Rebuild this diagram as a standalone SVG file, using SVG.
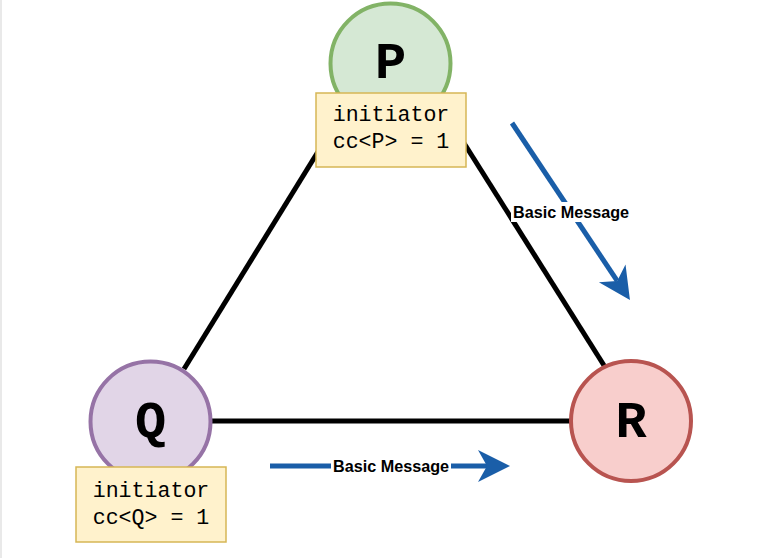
<svg xmlns="http://www.w3.org/2000/svg" width="766" height="558" viewBox="0 0 766 558">
<style>
.node{stroke-width:4}
.lbl{font-family:"Courier New","Nimbus Mono PS","Liberation Mono",monospace;font-weight:bold;font-size:52px;text-anchor:middle;fill:#000}
.box{fill:#fff2cc;stroke:#d6b656;stroke-width:1.5}
.boxt{font-family:"Courier New","Nimbus Mono PS","Liberation Mono",monospace;font-size:21.6px;text-anchor:middle;fill:#000}
.edge{stroke:#000;stroke-width:5;fill:none}
.msg{stroke:#1a5ea8;stroke-width:5;fill:none}
.msgt{font-family:"Liberation Sans",Arial,sans-serif;font-weight:bold;font-size:16.2px;text-anchor:middle;fill:#000}
</style>
<defs>
<marker id="ah" markerUnits="userSpaceOnUse" markerWidth="40" markerHeight="40" viewBox="0 -20 40 40" refX="9" refY="0" orient="auto" overflow="visible">
<path d="M0,-16 L32,0 L0,16 L9,0 Z" fill="#1a5ea8"/>
</marker>
</defs>
<rect x="0" y="0" width="766" height="558" fill="#fff"/>
<line x1="1" y1="0" x2="1" y2="558" stroke="#e2e2e2" stroke-width="1.5"/>
<g id="connectors">
<line class="edge" x1="340" y1="116" x2="184" y2="369"/>
<line class="edge" x1="440" y1="105" x2="605" y2="367"/>
<line class="edge" x1="212" y1="421" x2="570" y2="421"/>
<line class="msg" x1="512" y1="123" x2="617.2" y2="280.9" marker-end="url(#ah)"/>
<rect x="511" y="202" width="120" height="20" fill="#fff"/>
<text class="msgt" x="571" y="217.5">Basic Message</text>
<line class="msg" x1="270" y1="466" x2="487" y2="466" marker-end="url(#ah)"/>
<rect x="331" y="456" width="120" height="20" fill="#fff"/>
<text class="msgt" x="391" y="471.5">Basic Message</text>
</g>
<g id="P">
<circle class="node" cx="390.5" cy="63.5" r="60" fill="#d5e8d4" stroke="#82b366"/>
<text class="lbl" x="390.5" y="78">P</text>
<rect class="box" x="316" y="93" width="150" height="74"/>
<text class="boxt" x="391" y="120.5">initiator</text>
<text class="boxt" x="391" y="148">cc&lt;P&gt; = 1</text>
</g>
<g id="Q">
<circle class="node" cx="150.5" cy="421.5" r="60" fill="#e1d5e7" stroke="#9673a6"/>
<text class="lbl" x="150.5" y="437">Q</text>
<rect class="box" x="76" y="467" width="150" height="75"/>
<text class="boxt" x="151" y="496.5">initiator</text>
<text class="boxt" x="151" y="524">cc&lt;Q&gt; = 1</text>
</g>
<g id="R">
<circle class="node" cx="631" cy="421" r="60" fill="#f8cecc" stroke="#b85450"/>
<text class="lbl" x="631" y="437">R</text>
</g>
</svg>
